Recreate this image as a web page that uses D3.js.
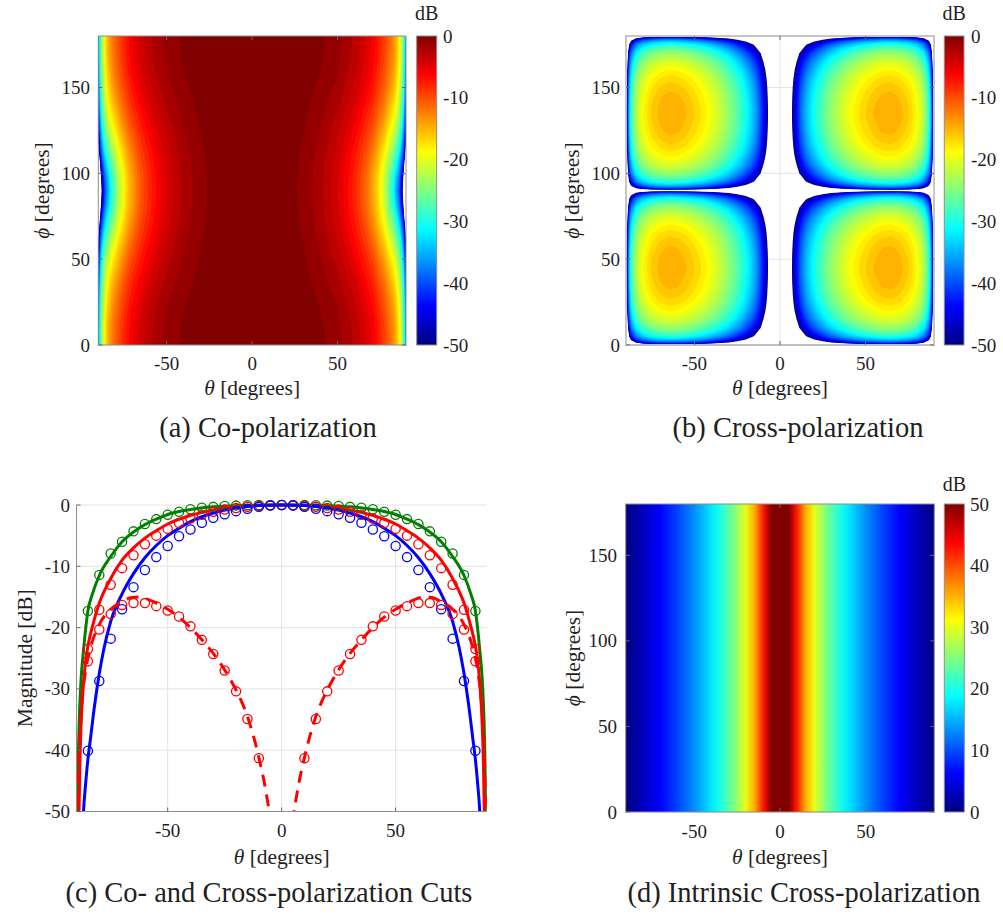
<!DOCTYPE html>
<html>
<head>
<meta charset="utf-8">
<script src="https://cdn.jsdelivr.net/npm/d3@7/dist/d3.min.js"></script>
<style>
  html, body { margin: 0; padding: 0; background: #fff; }
  svg { display: block; }
  svg text { font-family: "Liberation Serif", "DejaVu Serif", "Noto Serif", serif; fill: #1f1f1f; }
</style>
</head>
<body>
<svg id="fig" width="1003" height="916" font-family="Liberation Serif, DejaVu Serif, serif"></svg>
<script>
// ---------------------------------------------------------------
// Co-polarization map (dB) on a theta x phi grid; null = no field
// ---------------------------------------------------------------
const coTheta = [-90,-89,-87,-84,-80,-75,-70,-60,-50,-40,-30,-20,-10,0,10,20,30,40,50,60,70,75,80,84,87,89,90];
const coPhi   = [0,7.5,15,22.5,30,37.5,45,52.5,60,67.5,75,82.5,90,97.5,105,112.5,120,127.5,135,142.5,150,157.5,165,172.5,180];
const coPhi0    = [-38.0,-31.0,-21.0,-15.0,-11.5,-8.5,-6.0,-3.2,-1.6,-0.8,-0.3,-0.1,-0.02,0,-0.02,-0.1,-0.3,-0.8,-1.6,-3.2,-6.0,-8.5,-11.5,-15.0,-21.0,-31.0,-38.0];
const coPhi7_5  = [-38.1,-31.2,-21.1,-15.1,-11.6,-8.6,-6.1,-3.3,-1.65,-0.83,-0.32,-0.11,-0.02,0,-0.02,-0.11,-0.32,-0.83,-1.65,-3.3,-6.1,-8.6,-11.6,-15.1,-21.1,-31.2,-38.1];
const coPhi15   = [-38.6,-31.6,-21.6,-15.5,-12.0,-8.9,-6.4,-3.5,-1.8,-0.9,-0.36,-0.13,-0.03,0,-0.03,-0.13,-0.36,-0.9,-1.8,-3.5,-6.4,-8.9,-12.0,-15.5,-21.6,-31.6,-38.6];
const coPhi22_5 = [-39.4,-32.3,-22.3,-16.2,-12.6,-9.5,-6.8,-3.8,-2.0,-1.05,-0.44,-0.16,-0.03,0,-0.03,-0.16,-0.44,-1.05,-2.0,-3.8,-6.8,-9.5,-12.6,-16.2,-22.3,-32.3,-39.4];
const coPhi30   = [-40.5,-33.4,-23.3,-17.2,-13.5,-10.2,-7.5,-4.3,-2.3,-1.24,-0.54,-0.2,-0.05,0,-0.05,-0.2,-0.54,-1.24,-2.3,-4.3,-7.5,-10.2,-13.5,-17.2,-23.3,-33.4,-40.5];
const coPhi37_5 = [-42.0,-34.9,-24.7,-18.5,-14.7,-11.2,-8.3,-4.8,-2.7,-1.46,-0.66,-0.25,-0.06,0,-0.06,-0.25,-0.66,-1.46,-2.7,-4.8,-8.3,-11.2,-14.7,-18.5,-24.7,-34.9,-42.0];
const coPhi45   = [-44.0,-36.7,-26.5,-20.2,-16.2,-12.3,-9.3,-5.5,-3.1,-1.7,-0.79,-0.3,-0.07,0,-0.07,-0.3,-0.79,-1.7,-3.1,-5.5,-9.3,-12.3,-16.2,-20.2,-26.5,-36.7,-44.0];
const coPhi52_5 = [-46.6,-39.1,-28.8,-22.3,-17.9,-13.6,-10.3,-6.2,-3.6,-1.95,-0.92,-0.35,-0.08,0,-0.08,-0.35,-0.92,-1.95,-3.6,-6.2,-10.3,-13.6,-17.9,-22.3,-28.8,-39.1,-46.6];
const coPhi60   = [-50.0,-42.2,-31.5,-24.8,-20.0,-15.1,-11.5,-6.9,-4.0,-2.2,-1.04,-0.4,-0.1,0,-0.1,-0.4,-1.04,-2.2,-4.0,-6.9,-11.5,-15.1,-20.0,-24.8,-31.5,-42.2,-50.0];
const coPhi67_5 = [-54.7,-46.0,-35.0,-27.7,-22.3,-16.6,-12.6,-7.6,-4.4,-2.4,-1.15,-0.44,-0.1,0,-0.1,-0.44,-1.15,-2.4,-4.4,-7.6,-12.6,-16.6,-22.3,-27.7,-35.0,-46.0,-54.7];
const coPhi75   = [-61.5,-51.0,-39.0,-30.9,-24.5,-17.9,-13.6,-8.1,-4.7,-2.6,-1.23,-0.47,-0.11,0,-0.11,-0.47,-1.23,-2.6,-4.7,-8.1,-13.6,-17.9,-24.5,-30.9,-39.0,-51.0,-61.5];
const coPhi82_5 = [-73.5,-56.7,-43.1,-33.8,-26.3,-18.9,-14.3,-8.5,-4.9,-2.66,-1.28,-0.49,-0.12,0,-0.12,-0.49,-1.28,-2.66,-4.9,-8.5,-14.3,-18.9,-26.3,-33.8,-43.1,-56.7,-73.5];
const coPhi90   = [null,-60.0,-45.0,-35.0,-27.0,-19.2,-14.5,-8.6,-5.0,-2.7,-1.3,-0.5,-0.12,0,-0.12,-0.5,-1.3,-2.7,-5.0,-8.6,-14.5,-19.2,-27.0,-35.0,-45.0,-60.0,null];
const coRows = [coPhi0, coPhi7_5, coPhi15, coPhi22_5, coPhi30, coPhi37_5, coPhi45, coPhi52_5, coPhi60, coPhi67_5, coPhi75, coPhi82_5,
                coPhi90,
                coPhi82_5, coPhi75, coPhi67_5, coPhi60, coPhi52_5, coPhi45, coPhi37_5, coPhi30, coPhi22_5, coPhi15, coPhi7_5, coPhi0];

// ---------------------------------------------------------------
// Cross-polarization map (dB); null on the principal planes
// ---------------------------------------------------------------
const crossTheta = [-90,-89,-87,-84,-80,-75,-70,-65,-60,-55,-50,-45,-40,-35,-30,-25,-20,-15,-10,-7,-4,0,4,7,10,15,20,25,30,35,40,45,50,55,60,65,70,75,80,84,87,89,90];
const crossPhi = [0,5,10,15,20,25,30,35,40,45,50,55,60,65,70,75,80,85,90,95,100,105,110,115,120,125,130,135,140,145,150,155,160,165,170,175,180];
const crossPhi0  = [null,null,null,null,null,null,null,null,null,null,null,null,null,null,null,null,null,null,null,null,null,null,null,null,null,null,null,null,null,null,null,null,null,null,null,null,null,null,null,null,null,null,null];
const crossPhi5  = [null,-59.2,-44.7,-38.2,-34.4,-32.0,-30.8,-30.3,-30.5,-31.1,-32.2,-33.5,-35.2,-37.3,-39.7,-42.7,-46.2,-50.7,-58.7,-65.2,-73.2,null,-73.2,-65.2,-58.7,-50.7,-46.2,-42.7,-39.7,-37.3,-35.2,-33.5,-32.2,-31.1,-30.5,-30.3,-30.8,-32.0,-34.4,-38.2,-44.7,-59.2,null];
const crossPhi10 = [null,-53.3,-38.8,-32.3,-28.5,-26.1,-24.9,-24.4,-24.6,-25.2,-26.3,-27.6,-29.3,-31.4,-33.8,-36.8,-40.3,-44.8,-52.8,-59.3,-67.3,null,-67.3,-59.3,-52.8,-44.8,-40.3,-36.8,-33.8,-31.4,-29.3,-27.6,-26.3,-25.2,-24.6,-24.4,-24.9,-26.1,-28.5,-32.3,-38.8,-53.3,null];
const crossPhi15 = [null,-50.0,-35.5,-29.0,-25.2,-22.8,-21.6,-21.1,-21.3,-21.9,-23.0,-24.3,-26.0,-28.1,-30.5,-33.5,-37.0,-41.5,-49.5,-56.0,-64.0,null,-64.0,-56.0,-49.5,-41.5,-37.0,-33.5,-30.5,-28.1,-26.0,-24.3,-23.0,-21.9,-21.3,-21.1,-21.6,-22.8,-25.2,-29.0,-35.5,-50.0,null];
const crossPhi20 = [null,-47.9,-33.4,-26.9,-23.1,-20.7,-19.5,-18.9,-19.1,-19.8,-20.9,-22.2,-23.9,-26.0,-28.4,-31.4,-34.9,-39.4,-47.4,-53.9,-61.9,null,-61.9,-53.9,-47.4,-39.4,-34.9,-31.4,-28.4,-26.0,-23.9,-22.2,-20.9,-19.8,-19.1,-18.9,-19.5,-20.7,-23.1,-26.9,-33.4,-47.9,null];
const crossPhi25 = [null,-46.3,-31.8,-25.3,-21.5,-19.1,-17.9,-17.4,-17.6,-18.2,-19.3,-20.6,-22.3,-24.4,-26.8,-29.8,-33.3,-37.8,-45.8,-52.3,-60.3,null,-60.3,-52.3,-45.8,-37.8,-33.3,-29.8,-26.8,-24.4,-22.3,-20.6,-19.3,-18.2,-17.6,-17.4,-17.9,-19.1,-21.5,-25.3,-31.8,-46.3,null];
const crossPhi30 = [null,-45.3,-30.8,-24.3,-20.5,-18.1,-16.9,-16.3,-16.5,-17.2,-18.3,-19.6,-21.3,-23.4,-25.8,-28.8,-32.3,-36.8,-44.8,-51.3,-59.3,null,-59.3,-51.3,-44.8,-36.8,-32.3,-28.8,-25.8,-23.4,-21.3,-19.6,-18.3,-17.2,-16.5,-16.3,-16.9,-18.1,-20.5,-24.3,-30.8,-45.3,null];
const crossPhi35 = [null,-44.6,-30.1,-23.6,-19.8,-17.4,-16.2,-15.6,-15.8,-16.5,-17.6,-18.9,-20.6,-22.7,-25.1,-28.1,-31.6,-36.1,-44.1,-50.6,-58.6,null,-58.6,-50.6,-44.1,-36.1,-31.6,-28.1,-25.1,-22.7,-20.6,-18.9,-17.6,-16.5,-15.8,-15.6,-16.2,-17.4,-19.8,-23.6,-30.1,-44.6,null];
const crossPhi40 = [null,-44.2,-29.7,-23.2,-19.4,-17.0,-15.8,-15.2,-15.4,-16.1,-17.2,-18.5,-20.2,-22.3,-24.7,-27.7,-31.2,-35.7,-43.7,-50.2,-58.2,null,-58.2,-50.2,-43.7,-35.7,-31.2,-27.7,-24.7,-22.3,-20.2,-18.5,-17.2,-16.1,-15.4,-15.2,-15.8,-17.0,-19.4,-23.2,-29.7,-44.2,null];
const crossPhi45 = [null,-44.0,-29.5,-23.0,-19.2,-16.8,-15.6,-15.1,-15.3,-15.9,-17.0,-18.3,-20.0,-22.1,-24.5,-27.5,-31.0,-35.5,-43.5,-50.0,-58.0,null,-58.0,-50.0,-43.5,-35.5,-31.0,-27.5,-24.5,-22.1,-20.0,-18.3,-17.0,-15.9,-15.3,-15.1,-15.6,-16.8,-19.2,-23.0,-29.5,-44.0,null];
const crossRows = [crossPhi0, crossPhi5, crossPhi10, crossPhi15, crossPhi20, crossPhi25, crossPhi30, crossPhi35, crossPhi40,
                   crossPhi45, crossPhi40, crossPhi35, crossPhi30, crossPhi25, crossPhi20, crossPhi15, crossPhi10, crossPhi5,
                   crossPhi0, crossPhi5, crossPhi10, crossPhi15, crossPhi20, crossPhi25, crossPhi30, crossPhi35, crossPhi40,
                   crossPhi45, crossPhi40, crossPhi35, crossPhi30, crossPhi25, crossPhi20, crossPhi15, crossPhi10, crossPhi5, crossPhi0];

// ---------------------------------------------------------------
// Principal-plane cuts (dB): solid lines
// ---------------------------------------------------------------
const cutThetaE = [-89.8,-89.5,-89,-88,-87,-85,-83,-80,-75,-70,-65,-60,-55,-50,-40,-30,-20,-10,0,10,20,30,40,50,55,60,65,70,75,80,83,85,87,88,89,89.5,89.8];
const cutE      = [-60,-48,-38,-28.5,-24,-17.3,-14.5,-11.5,-8.4,-6.0,-4.4,-3.2,-2.3,-1.55,-0.75,-0.3,-0.1,-0.02,0,-0.02,-0.1,-0.3,-0.75,-1.55,-2.3,-3.2,-4.4,-6.0,-8.4,-11.5,-14.5,-17.3,-24,-28.5,-38,-48,-60];
const cutThetaD = [-89.2,-88.9,-88.5,-88,-87,-86,-85,-83,-80,-75,-70,-65,-60,-55,-50,-40,-30,-20,-10,0,10,20,30,40,50,55,60,65,70,75,80,83,85,86,87,88,88.5,88.9,89.2];
const cutD      = [-60,-50,-42,-36,-29.5,-25.5,-23,-19.8,-16.0,-12.0,-9.0,-7.0,-5.4,-4.2,-3.1,-1.7,-0.8,-0.3,-0.07,0,-0.07,-0.3,-0.8,-1.7,-3.1,-4.2,-5.4,-7.0,-9.0,-12.0,-16.0,-19.8,-23,-25.5,-29.5,-36,-42,-50,-60];
const cutThetaH = [-87.8,-87,-86,-85,-84,-82,-80,-78,-75,-70,-65,-60,-55,-50,-45,-40,-30,-20,-10,0,10,20,30,40,45,50,55,60,65,70,75,78,80,82,84,85,86,87,87.8];
const cutH      = [-58,-50.5,-45.5,-41.5,-38.5,-32.5,-27.5,-23.5,-19.0,-14.5,-11.2,-8.6,-6.6,-5.0,-3.8,-2.7,-1.3,-0.5,-0.1,0,-0.1,-0.5,-1.3,-2.7,-3.8,-5.0,-6.6,-8.6,-11.2,-14.5,-19.0,-23.5,-27.5,-32.5,-38.5,-41.5,-45.5,-50.5,-58];
// cross-polar cut at phi = 45 (dashed), no value on boresight
const cutThetaX = [-89.6,-89,-88,-86,-84,-80,-75,-70,-66,-63,-60,-55,-50,-45,-40,-35,-30,-25,-20,-15,-10,-7,-5.5,-4,0,4,5.5,7,10,15,20,25,30,35,40,45,50,55,60,63,66,70,75,80,84,86,88,89,89.6];
const cutX      = [-52,-42,-34,-27,-23.5,-19.5,-17.0,-15.8,-15.1,-15.0,-15.2,-16.0,-17.0,-18.3,-20.0,-22.0,-24.2,-26.9,-30.2,-34.5,-41.2,-46.5,-50,-55,null,-55,-50,-46.5,-41.2,-34.5,-30.2,-26.9,-24.2,-22.0,-20.0,-18.3,-17.0,-16.0,-15.2,-15.0,-15.1,-15.8,-17.0,-19.5,-23.5,-27,-34,-42,-52];

// Sampled points (circles)
const markTheta = [-85,-80,-75,-70,-65,-60,-55,-50,-45,-40,-35,-30,-25,-20,-15,-10,-5,0,5,10,15,20,25,30,35,40,45,50,55,60,65,70,75,80,85];
const markE = [-17.3,-11.4,-7.9,-6.0,-4.3,-3.1,-2.3,-1.6,-1.1,-0.7,-0.45,-0.3,-0.15,-0.1,-0.05,0,0,0,0,0,-0.05,-0.1,-0.15,-0.3,-0.45,-0.7,-1.1,-1.6,-2.3,-3.1,-4.3,-6.0,-7.9,-11.4,-17.3];
const markD = [-23.5,-17.1,-13.0,-10.3,-8.2,-6.4,-5.0,-3.9,-2.95,-2.2,-1.6,-1.1,-0.75,-0.5,-0.3,-0.13,-0.03,0,-0.03,-0.13,-0.3,-0.5,-0.75,-1.1,-1.6,-2.2,-2.95,-3.9,-5.0,-6.4,-8.2,-10.3,-13.0,-17.1,-23.5];
const markH = [-40.1,-28.7,-21.8,-17.0,-13.4,-10.6,-8.5,-6.7,-5.1,-4.0,-2.9,-2.1,-1.5,-1.0,-0.6,-0.3,-0.1,0,-0.1,-0.3,-0.6,-1.0,-1.5,-2.1,-2.9,-4.0,-5.1,-6.7,-8.5,-10.6,-13.4,-17.0,-21.8,-28.7,-40.1];
const markX = [-25.5,-20.3,-17.8,-16.3,-16.0,-16.0,-16.5,-17.2,-18.2,-19.8,-22.0,-24.3,-27.0,-30.4,-34.9,-41.3,null,null,null,-41.3,-34.9,-30.4,-27.0,-24.3,-22.0,-19.8,-18.2,-17.2,-16.5,-16.0,-16.0,-16.3,-17.8,-20.3,-25.5];

// ---------------------------------------------------------------
// Intrinsic cross-polarization ratio (dB) versus theta
// ---------------------------------------------------------------
const ixrTheta = [-90,-85,-80,-75,-70,-65,-60,-55,-50,-45,-40,-35,-30,-25,-20,-15,-10,-7,-5,0,5,7,10,15,20,25,30,35,40,45,50,55,60,65,70,75,80,85,90];
const ixrDb    = [0,1.5,3.0,4.6,6.2,7.8,9.5,11.3,13.3,15.3,17.6,20.0,22.9,26.2,30.1,35.2,42.3,47,54,60,54,47,42.3,35.2,30.1,26.2,22.9,20.0,17.6,15.3,13.3,11.3,9.5,7.8,6.2,4.6,3.0,1.5,0];

// Axis ticks and labels
const thetaTicks = [-50, 0, 50];
const phiTicks = [0, 50, 100, 150];
const dbTicksNeg = [0, -10, -20, -30, -40, -50];
const dbTicksPos = [0, 10, 20, 30, 40, 50];
const captions = ["(a) Co-polarization", "(b) Cross-polarization", "(c) Co- and Cross-polarization Cuts", "(d) Intrinsic Cross-polarization"];

// ---------------------------------------------------------------
const svg = d3.select("#fig");
const defs = svg.append("defs");
const BOX = "#8e8e8e", GRID = "#e4e4e4", TICK = "#6a6a6a";
const FONT = "'Liberation Serif', 'DejaVu Serif', serif";
const TICK_FS = 19, LAB_FS = 21.5, CAP_FS = 28.5;

// MATLAB-style jet colormap
function jetColor(t) {
  t = Math.max(0, Math.min(1, t));
  const ch = v => Math.round(255 * Math.max(0, Math.min(1, v)));
  return d3.rgb(ch(1.5 - Math.abs(4 * t - 3)), ch(1.5 - Math.abs(4 * t - 2)), ch(1.5 - Math.abs(4 * t - 1))).formatHex();
}
const colorNeg = d3.scaleSequential(jetColor).domain([-50, 0]);
const colorPos = d3.scaleSequential(jetColor).domain([0, 50]);
const dbLevels = d3.range(-50, 0, 1);

function txt(g, x, y, s, anchor, size) {
  return g.append("text").attr("x", x).attr("y", y).attr("text-anchor", anchor || "middle")
    .attr("font-family", FONT).attr("font-size", size || TICK_FS).text(s);
}
function thetaLabel(g, x, y) {
  const t = g.append("text").attr("x", x).attr("y", y).attr("text-anchor", "middle")
    .attr("font-family", FONT).attr("font-size", LAB_FS);
  t.append("tspan").attr("font-style", "italic").text("θ");
  t.append("tspan").text(" [degrees]");
}
function phiLabel(g, x, y) {
  const t = g.append("text").attr("transform", `translate(${x},${y}) rotate(-90)`)
    .attr("text-anchor", "middle").attr("font-family", FONT).attr("font-size", LAB_FS);
  t.append("tspan").attr("font-style", "italic").text("ϕ");
  t.append("tspan").text(" [degrees]");
}

// Filled contours of a dB grid, contoured in linear amplitude
function drawContours(g, thetas, phis, rows, xs, ys) {
  const nx = thetas.length, ny = phis.length;
  const amp = rows.flatMap(r => r.map(v => v == null ? 0 : Math.pow(10, v / 20)));
  const gen = d3.contours().size([nx, ny]).thresholds(dbLevels.map(L => Math.pow(10, L / 20)));
  const ix = d3.scaleLinear().domain(d3.range(nx)).range(thetas).clamp(true);
  const iy = d3.scaleLinear().domain(d3.range(ny)).range(phis).clamp(true);
  const path = d3.geoPath(d3.geoTransform({
    point(px, py) { this.stream.point(xs(ix(px - 0.5)), ys(iy(py - 0.5))); }
  }));
  g.selectAll("path").data(gen(amp)).join("path")
    .attr("d", path)
    .attr("fill", (d, i) => colorNeg(dbLevels[i] + 1));
}

function colorbar(g, id, x0, x1, y0, y1, domain, ticks, labelX, dbY) {
  const grad = defs.append("linearGradient").attr("id", id)
    .attr("x1", 0).attr("y1", 1).attr("x2", 0).attr("y2", 0);
  d3.range(0, 9).forEach(k => grad.append("stop").attr("offset", k / 8).attr("stop-color", jetColor(k / 8)));
  g.append("rect").attr("x", x0).attr("y", y0).attr("width", x1 - x0).attr("height", y1 - y0)
    .attr("fill", `url(#${id})`).attr("stroke", BOX).attr("stroke-width", 1);
  const s = d3.scaleLinear().domain(domain).range([y1, y0]);
  ticks.forEach(v => txt(g, labelX, s(v) + 6.5, String(v), "start"));
  txt(g, (x0 + x1) / 2, dbY, "dB", "middle", 20);
}

// Heat-map panel frame: grid below, data, then box, ticks and labels
function heatPanel(o) {
  const g = svg.append("g");
  const xs = d3.scaleLinear().domain([-90, 90]).range([o.x0, o.x1]);
  const ys = d3.scaleLinear().domain([0, 180]).range([o.y1, o.y0]);
  g.append("rect").attr("x", o.x0).attr("y", o.y0).attr("width", o.x1 - o.x0).attr("height", o.y1 - o.y0).attr("fill", "#fff");
  g.selectAll(".gx").data(thetaTicks).join("line").attr("class", "gx")
    .attr("x1", d => xs(d)).attr("x2", d => xs(d)).attr("y1", o.y0).attr("y2", o.y1)
    .attr("stroke", GRID).attr("stroke-width", 1);
  g.selectAll(".gy").data(phiTicks).join("line").attr("class", "gy")
    .attr("x1", o.x0).attr("x2", o.x1).attr("y1", d => ys(d)).attr("y2", d => ys(d))
    .attr("stroke", GRID).attr("stroke-width", 1);
  o.draw(g.append("g"), xs, ys);
  g.append("rect").attr("x", o.x0).attr("y", o.y0).attr("width", o.x1 - o.x0).attr("height", o.y1 - o.y0)
    .attr("fill", "none").attr("stroke", BOX).attr("stroke-width", 1);
  const tl = 4;
  thetaTicks.forEach(v => {
    g.append("line").attr("x1", xs(v)).attr("x2", xs(v)).attr("y1", o.y1).attr("y2", o.y1 - tl).attr("stroke", TICK);
    g.append("line").attr("x1", xs(v)).attr("x2", xs(v)).attr("y1", o.y0).attr("y2", o.y0 + tl).attr("stroke", TICK);
    txt(g, xs(v), o.xTickY, String(v));
  });
  phiTicks.forEach(v => {
    g.append("line").attr("x1", o.x0).attr("x2", o.x0 + tl).attr("y1", ys(v)).attr("y2", ys(v)).attr("stroke", TICK);
    g.append("line").attr("x1", o.x1).attr("x2", o.x1 - tl).attr("y1", ys(v)).attr("y2", ys(v)).attr("stroke", TICK);
    txt(g, o.yTickX, ys(v) + 6.5, String(v), "end");
  });
  thetaLabel(g, (o.x0 + o.x1) / 2, o.xLabY);
  phiLabel(g, o.yLabX, (o.y0 + o.y1) / 2);
  return g;
}

// (a) co-polarization
const gA = heatPanel({
  x0: 98.3, x1: 406, y0: 36, y1: 345, xTickY: 370, yTickX: 90, xLabY: 395, yLabX: 49,
  draw: (g, xs, ys) => drawContours(g, coTheta, coPhi, coRows, xs, ys)
});
colorbar(gA, "cbA", 416.7, 436.7, 36, 345, [-50, 0], dbTicksNeg, 443, 20);

// (b) cross-polarization
const gB = heatPanel({
  x0: 626, x1: 934, y0: 36, y1: 345, xTickY: 370, yTickX: 620, xLabY: 395, yLabX: 579,
  draw: (g, xs, ys) => drawContours(g, crossTheta, crossPhi, crossRows, xs, ys)
});
colorbar(gB, "cbB", 944.3, 964, 36, 345, [-50, 0], dbTicksNeg, 971, 20);

// (d) intrinsic cross-polarization: smooth fill along theta
const gD = heatPanel({
  x0: 625.7, x1: 934.3, y0: 504, y1: 812, xTickY: 838, yTickX: 617, xLabY: 864, yLabX: 580,
  draw: (g, xs, ys) => {
    const grad = defs.append("linearGradient").attr("id", "ixrFill")
      .attr("x1", 0).attr("y1", 0).attr("x2", 1).attr("y2", 0);
    const [r0, r1] = xs.range();
    ixrTheta.forEach((th, i) => grad.append("stop")
      .attr("offset", (xs(th) - r0) / (r1 - r0))
      .attr("stop-color", colorPos(ixrDb[i])));
    g.append("rect").attr("x", r0).attr("y", ys(180)).attr("width", r1 - r0).attr("height", ys(0) - ys(180))
      .attr("fill", "url(#ixrFill)");
  }
});
colorbar(gD, "cbD", 944.3, 964.3, 504, 812, [0, 50], dbTicksPos, 970, 491);

// (c) cuts
(function () {
  const g = svg.append("g");
  const x0 = 76.5, x1 = 486.8, y0 = 505, y1 = 811.5;
  const xs = d3.scaleLinear().domain([-90, 90]).range([x0, x1]);
  const ys = d3.scaleLinear().domain([-50, 0]).range([y1, y0]);
  g.selectAll(".gx").data(thetaTicks).join("line").attr("class", "gx")
    .attr("x1", d => xs(d)).attr("x2", d => xs(d)).attr("y1", y0).attr("y2", y1)
    .attr("stroke", GRID).attr("stroke-width", 1);
  g.selectAll(".gy").data(dbTicksNeg).join("line").attr("class", "gy")
    .attr("x1", x0).attr("x2", x1).attr("y1", d => ys(d)).attr("y2", d => ys(d))
    .attr("stroke", GRID).attr("stroke-width", 1);
  defs.append("clipPath").attr("id", "clipC").append("rect")
    .attr("x", x0).attr("y", y0 - 4).attr("width", x1 - x0).attr("height", y1 - y0 + 4);
  const plot = g.append("g").attr("clip-path", "url(#clipC)");
  const line = d3.line().defined(d => d[1] != null).x(d => xs(d[0])).y(d => ys(d[1])).curve(d3.curveMonotoneX);
  const series = [
    { th: cutThetaE, v: cutE, mk: markE, color: "#008000", dash: null },
    { th: cutThetaD, v: cutD, mk: markD, color: "#ff0000", dash: null },
    { th: cutThetaH, v: cutH, mk: markH, color: "#0000ff", dash: null },
    { th: cutThetaX, v: cutX, mk: markX, color: "#ff0000", dash: "12,8" }
  ];
  series.forEach(s => {
    plot.append("path").datum(s.th.map((t, i) => [t, s.v[i]]))
      .attr("d", line).attr("fill", "none").attr("stroke", s.color).attr("stroke-width", 3)
      .attr("stroke-dasharray", s.dash);
    g.append("g").selectAll("circle")
      .data(markTheta.map((t, i) => [t, s.mk[i]]).filter(d => d[1] != null))
      .join("circle").attr("cx", d => xs(d[0])).attr("cy", d => ys(d[1])).attr("r", 4.6)
      .attr("fill", "none").attr("stroke", s.color).attr("stroke-width", 1.3);
  });
  g.append("line").attr("x1", x0).attr("x2", x0).attr("y1", y0).attr("y2", y1).attr("stroke", BOX);
  g.append("line").attr("x1", x0).attr("x2", x1).attr("y1", y1).attr("y2", y1).attr("stroke", BOX);
  thetaTicks.forEach(v => {
    g.append("line").attr("x1", xs(v)).attr("x2", xs(v)).attr("y1", y1).attr("y2", y1 - 4).attr("stroke", TICK);
    txt(g, xs(v), 837, String(v));
  });
  dbTicksNeg.forEach(v => {
    g.append("line").attr("x1", x0).attr("x2", x0 + 4).attr("y1", ys(v)).attr("y2", ys(v)).attr("stroke", TICK);
    txt(g, 70, ys(v) + 6.5, String(v), "end");
  });
  thetaLabel(g, xs(0), 864);
  g.append("text").attr("transform", `translate(32,${(y0 + y1) / 2}) rotate(-90)`)
    .attr("text-anchor", "middle").attr("font-family", FONT).attr("font-size", LAB_FS).text("Magnitude [dB]");
})();

// Sub-figure captions
const capPos = [[268, 437], [798, 437], [269, 902], [804, 902]];
captions.forEach((c, i) => txt(svg, capPos[i][0], capPos[i][1], c, "middle", CAP_FS));
</script>
</body>
</html>
